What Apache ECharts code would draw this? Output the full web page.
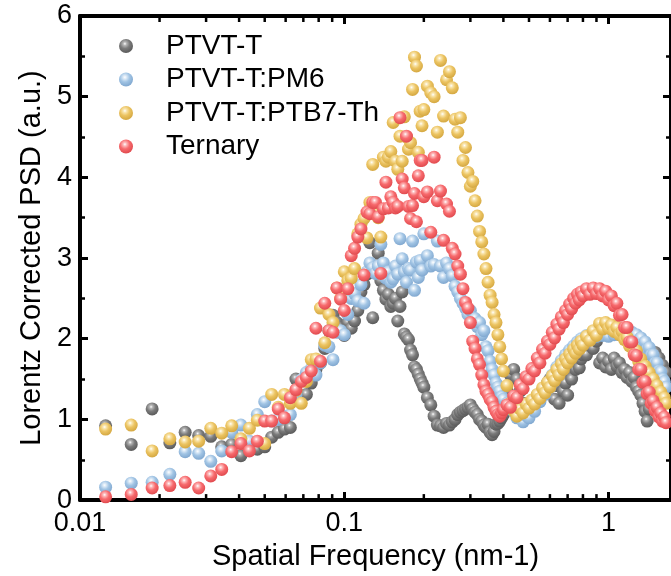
<!DOCTYPE html>
<html>
<head>
<meta charset="utf-8">
<script src="https://cdn.jsdelivr.net/npm/echarts@6/dist/echarts.min.js"></script>
<style>
html,body{margin:0;padding:0;background:#fff;}
#chart{width:671px;height:576px;}
</style>
</head>
<body>
<div id="chart"></div>
<script>
// Spatial frequency (nm-1), shared by all series
const freq = [
 0.0125,0.015625,0.01875,0.021875,0.025,0.028125,0.03125,0.034375,0.0375,0.040625,0.04375,0.046875,0.05,0.053125,0.05625,0.059375,0.0625,0.065625,0.06875,0.071875,0.075,0.078125,0.08125,0.084375,0.0875,0.090625,0.09375,0.096875,
 0.1,0.103125,0.10625,0.109375,0.1125,0.115625,0.11875,0.121875,0.125,0.128125,0.13125,0.134375,0.1375,0.140625,0.14375,0.146875,0.15,0.153125,0.15625,0.159375,0.1625,0.165625,0.16875,0.171875,0.175,0.178125,0.18125,0.184375,0.1875,0.190625,0.19375,0.196875,0.2,
 0.20625,0.2125,0.21875,0.225,0.23125,0.2375,0.24375,0.25,0.25625,0.2625,0.26875,0.275,0.28125,0.2875,0.29375,0.3,0.30625,0.3125,0.31875,0.325,0.33125,0.3375,0.34375,0.35,0.35625,0.3625,0.36875,0.375,0.38125,0.3875,0.39375,0.4,
 0.4125,0.425,0.4375,0.45,0.4625,0.475,0.4875,0.5,0.5125,0.525,0.5375,0.55,0.5625,0.575,0.5875,0.6,0.6125,0.625,0.6375,0.65,0.6625,0.675,0.6875,0.7,0.7125,0.725,0.7375,0.75,0.7625,0.775,0.7875,0.8,
 0.825,0.85,0.875,0.9,0.925,0.95,0.975,1.0,1.025,1.05,1.075,1.1,1.125,1.15,1.175,1.2,1.225,1.25,1.275,1.3,1.325,1.35,1.375,1.4,1.425,1.45,1.475,1.5,1.525,1.55,1.575,1.6,1.625,1.65
];

const psdPTVT = [
 0.92,0.69,1.13,0.71,0.84,0.80,0.79,0.66,0.69,0.55,0.65,0.63,0.66,0.78,0.84,0.88,0.90,1.50,1.29,1.31,1.45,1.62,1.70,1.88,2.10,2.29,2.20,2.13,
 2.04,2.20,2.13,2.22,2.35,2.58,2.67,2.80,3.19,2.26,2.90,3.06,2.72,2.60,2.49,2.55,2.40,2.44,2.50,2.22,2.40,2.58,2.06,2.02,1.99,1.86,1.80,1.65,1.62,1.56,1.50,1.45,1.40,
 1.27,1.18,1.04,0.93,0.92,0.90,0.95,0.93,0.97,1.00,1.06,1.09,1.11,1.13,1.15,1.18,1.13,1.09,1.06,1.00,0.98,0.93,0.90,0.94,0.84,0.81,0.85,0.94,0.95,0.98,1.02,1.06,
 1.35,1.55,1.62,1.50,1.35,1.20,1.12,1.10,1.15,1.22,1.30,1.27,1.35,1.40,1.45,1.50,1.50,1.25,1.42,1.20,1.55,1.35,1.45,1.30,1.60,1.50,1.67,1.62,1.70,1.64,1.75,1.80,
 1.80,1.92,1.88,1.97,1.70,1.76,1.65,1.72,1.62,1.76,1.66,1.70,1.58,1.62,1.52,1.58,1.47,1.52,1.40,1.35,1.30,1.20,1.10,0.98,1.13,1.85,1.78,1.83,1.70,1.76,1.62,1.67,1.55,1.58
];

const psdPM6 = [
 0.16,0.21,0.22,0.32,0.60,0.58,0.48,0.61,0.84,0.93,0.73,1.06,1.22,0.98,1.00,1.04,1.06,1.30,1.49,1.58,1.63,1.55,1.70,1.92,1.90,1.74,2.08,2.10,
 2.05,2.30,2.50,2.56,2.47,2.67,2.44,2.83,2.94,2.88,2.81,2.90,3.17,2.94,2.75,2.83,2.70,2.74,2.90,2.80,3.24,2.99,2.83,2.70,2.87,2.85,3.21,2.60,2.95,2.76,2.97,2.85,3.30,
 3.03,2.90,2.92,3.21,2.90,2.76,2.94,2.87,2.78,2.65,2.58,2.50,2.44,2.38,2.30,2.35,2.22,2.25,2.15,2.20,2.05,2.10,1.90,1.85,1.72,1.62,1.55,1.45,1.40,1.35,1.28,1.25,
 1.20,1.13,1.10,1.02,1.04,0.97,1.05,1.02,1.13,1.10,1.25,1.22,1.36,1.31,1.45,1.40,1.55,1.50,1.65,1.60,1.73,1.68,1.80,1.75,1.86,1.81,1.91,1.86,1.96,1.91,2.00,1.95,
 2.04,1.99,2.08,2.03,2.10,2.04,2.09,2.03,2.12,2.05,2.13,2.05,2.12,2.04,2.10,2.03,2.08,2.00,2.05,1.98,2.01,1.93,1.96,1.87,1.89,1.80,1.80,1.70,1.70,1.60,1.59,1.50,1.47,1.40
];

const psdPTB7 = [
 0.88,0.93,0.61,0.76,0.72,0.73,0.89,0.83,0.92,0.76,0.89,0.99,0.70,1.31,1.15,1.31,1.20,1.36,1.20,1.47,1.74,1.75,2.38,1.95,2.30,2.20,2.63,2.50,
 2.83,2.72,2.75,2.87,3.30,3.42,3.49,3.25,3.69,4.16,3.55,3.50,3.26,4.25,4.20,4.25,4.32,4.68,4.20,4.10,4.51,4.20,4.75,4.50,4.35,4.43,5.09,5.49,5.38,4.31,4.82,4.64,4.84,
 5.13,5.05,5.00,4.56,5.45,4.76,5.21,5.31,5.11,4.72,4.56,4.74,4.21,4.37,4.06,3.89,3.95,3.71,3.52,3.33,3.20,3.05,2.87,2.70,2.54,2.45,2.30,2.20,2.05,1.90,1.75,1.60,
 1.42,1.20,1.11,1.04,1.13,1.08,1.19,1.14,1.24,1.19,1.31,1.26,1.39,1.33,1.46,1.40,1.54,1.48,1.62,1.55,1.69,1.62,1.75,1.70,1.81,1.76,1.87,1.82,1.92,1.87,1.97,1.92,
 2.03,1.98,2.10,2.04,2.19,2.12,2.20,2.13,2.17,2.09,2.14,2.05,2.09,1.99,2.02,1.91,1.95,1.82,1.85,1.72,1.75,1.63,1.66,1.55,1.58,1.47,1.50,1.39,1.42,1.32,1.34,1.25,1.27,1.20
];

const psdTernary = [
 0.04,0.07,0.15,0.18,0.22,0.15,0.30,0.38,0.60,0.70,0.61,0.73,0.98,0.98,1.13,1.02,1.27,1.37,1.47,1.52,1.60,2.13,1.72,2.44,2.10,2.08,2.63,2.49,
 2.35,2.62,3.03,3.12,3.26,3.36,2.79,3.57,3.55,3.69,3.69,3.51,2.81,3.61,3.94,3.62,3.76,3.69,3.62,3.64,4.74,3.98,3.87,4.51,3.64,3.49,3.65,3.80,3.45,4.02,4.21,4.21,3.76,
 3.82,3.32,4.25,3.71,3.83,3.22,3.67,3.58,3.12,3.05,2.90,2.80,2.62,2.45,2.38,2.20,1.97,1.88,1.75,1.68,1.55,1.43,1.35,1.31,1.25,1.22,1.15,1.10,1.06,1.04,1.08,1.12,
 1.18,1.15,1.29,1.27,1.43,1.38,1.53,1.50,1.63,1.60,1.76,1.70,1.87,1.82,1.97,1.93,2.08,2.01,2.18,2.12,2.27,2.20,2.35,2.30,2.43,2.37,2.50,2.44,2.55,2.48,2.58,2.53,
 2.62,2.55,2.63,2.56,2.62,2.53,2.59,2.48,2.53,2.41,2.44,2.29,2.30,2.14,2.14,1.96,1.96,1.80,1.79,1.62,1.62,1.46,1.47,1.32,1.34,1.20,1.23,1.11,1.15,1.03,1.08,0.98,1.03,0.96
];

const seriesNames = ['PTVT-T','PTVT-T:PM6','PTVT-T:PTB7-Th','Ternary'];
const xTickLabels = ['0.01','0.1','1'];
const minorLogTicks = [0.02,0.03,0.04,0.05,0.06,0.07,0.08,0.09,0.2,0.3,0.4,0.5,0.6,0.7,0.8,0.9];

const FONT = '"Liberation Sans", Arial, sans-serif';

function sphere(light, base, dark){
  return {type:'radial', x:0.42, y:0.34, r:0.62, colorStops:[
    {offset:0, color:'#ffffff'},
    {offset:0.2, color:light},
    {offset:0.55, color:base},
    {offset:1, color:dark}
  ]};
}
const styles = [
  sphere('#b5b5b5','#7b7b7b','#5e5e5e'),
  sphere('#dbe9f6','#a1c4e4','#84abd2'),
  sphere('#f9e6b0','#ecc462','#d7ab45'),
  sphere('#fdb9ba','#f76a6d','#e34e52')
];
const values = [psdPTVT, psdPM6, psdPTB7, psdTernary];

function pairs(ys){ return freq.map((f,i)=>[f, ys[i]]); }

const chart = echarts.init(document.getElementById('chart'), null, {renderer:'canvas'});

const scatterSeries = seriesNames.map((n,i)=>({
  name:n, type:'scatter', xAxisIndex:0, yAxisIndex:0,
  data: pairs(values[i]), symbol:'circle', symbolSize:13,
  itemStyle:{color:styles[i], opacity:1},
  emphasis:{disabled:true}, z: 2+i
}));

const logTickSeries = {
  type:'custom', xAxisIndex:0, yAxisIndex:0, silent:true, z:20, clip:false,
  data: minorLogTicks.map(v=>[v,0]),
  encode:{x:0,y:1},
  renderItem:function(params, api){
    const pb = api.coord([api.value(0), 0]);
    const pt = api.coord([api.value(0), 6]);
    return {type:'group', children:[
      {type:'line', shape:{x1:pb[0],y1:pb[1],x2:pb[0],y2:pb[1]-6}, style:{stroke:'#000',lineWidth:2.5}},
      {type:'line', shape:{x1:pt[0],y1:pt[1],x2:pt[0],y2:pt[1]+6}, style:{stroke:'#000',lineWidth:2.5}}
    ]};
  }
};

function fmtX(v){
  const s = String(+(+v).toPrecision(3));
  return xTickLabels.indexOf(s) >= 0 ? s : '';
}

const axisLineStyle = {show:true, onZero:false, lineStyle:{color:'#000', width:4}};

chart.setOption({
  animation:false,
  backgroundColor:'#fff',
  grid:{left:80, right:-5, top:16, bottom:73, containLabel:false},
  legend:{
    orient:'vertical', left:114, top:27, itemWidth:70, itemHeight:14, itemGap:5.5,
    icon:'circle', data:seriesNames, selectedMode:false,
    textStyle:{fontSize:28, fontFamily:FONT, color:'#000', lineHeight:28}
  },
  xAxis:[
    {type:'log', logBase:10, min:0.01, max:1.723, position:'bottom',
     axisLine:axisLineStyle,
     axisTick:{show:true, inside:true, length:8, lineStyle:{color:'#000', width:3}},
     axisLabel:{show:true, formatter:fmtX, fontSize:27, fontFamily:FONT, color:'#000', margin:10, showMaxLabel:false},
     splitLine:{show:false},
     name:'Spatial Frequency (nm-1)', nameLocation:'middle', nameGap:34,
     nameTextStyle:{fontSize:29, fontFamily:FONT, color:'#000'}},
    {type:'log', logBase:10, min:0.01, max:1.723, position:'top',
     axisLine:axisLineStyle,
     axisTick:{show:true, inside:true, length:8, lineStyle:{color:'#000', width:3}},
     axisLabel:{show:false}, splitLine:{show:false}}
  ],
  yAxis:[
    {type:'value', min:0, max:6, interval:1, position:'left',
     axisLine:axisLineStyle,
     axisTick:{show:true, inside:true, length:8, lineStyle:{color:'#000', width:3}},
     minorTick:{show:true, splitNumber:2, length:5, lineStyle:{color:'#000', width:2.5}},
     axisLabel:{fontSize:27, fontFamily:FONT, color:'#000', margin:8},
     splitLine:{show:false},
     name:'Lorentz Corrected PSD (a.u.)', nameLocation:'middle', nameGap:34,
     nameTextStyle:{fontSize:29, fontFamily:FONT, color:'#000'}},
    {type:'value', min:0, max:6, interval:1, position:'right',
     axisLine:axisLineStyle,
     axisTick:{show:true, inside:true, length:8, lineStyle:{color:'#000', width:3}},
     minorTick:{show:true, splitNumber:2, length:5, lineStyle:{color:'#000', width:2.5}},
     axisLabel:{show:false}, splitLine:{show:false}}
  ],
  series: scatterSeries.concat([logTickSeries])
});
</script>
</body>
</html>
